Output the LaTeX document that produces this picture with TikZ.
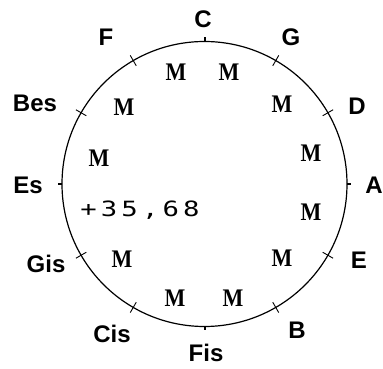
\documentclass[tikz,border=0pt]{standalone}
\usepackage{fontspec}
\newfontfamily\labfont{Liberation Sans}
\newfontfamily\mfont{Liberation Serif}
\newfontfamily\numfont[LetterSpace=15]{DejaVu Sans Mono}
\begin{document}
\begin{tikzpicture}[x=1pt,y=1pt,
  key/.style={font=\labfont\bfseries\fontsize{24}{24}\selectfont, inner sep=0pt},
  mm/.style={font=\mfont\bfseries\fontsize{22}{22}\selectfont, inner sep=0pt},
  ring/.style={circle, draw, line width=1.2pt, minimum size=285pt, inner sep=0pt, outer sep=0pt},
  bigtick/.style={line width=2pt},
  smalltick/.style={line width=0.9pt}]
\useasboundingbox (0,0) rectangle (383,369);
\node[ring] (circ) at (204.5,185) {};
% short outward ticks
\foreach \a in {0,90,180,270}
  \draw[bigtick] (circ.\a) -- ([shift={(\a:4)}]circ.\a);
% crossing ticks
\foreach \a in {30,60,120,150,210,240,300,330}
  \draw[smalltick] ([shift={(\a:-6)}]circ.\a) -- ([shift={(\a:6)}]circ.\a);
% key labels
\node[key] (kC)   at (203,350) {C};
\node[key] (kG)   at (291,332) {G};
\node[key] (kD)   at (357,263) {D};
\node[key] (kA)   at (374,184) {A};
\node[key] (kE)   at (359,109) {E};
\node[key] (kB)   at (297,39)  {B};
\node[key] (kFis) at (206,16)  {Fis};
\node[key] (kCis) at (112,35)  {Cis};
\node[key] (kGis) at (46,105)  {Gis};
\node[key] (kEs)  at (28,184)  {Es};
\node[key] (kBes) at (35,266)  {Bes};
\node[key] (kF)   at (106,332) {F};
% M marks
\node[mm] (m1)  at (176,297) {\scalebox{1}[1.15]{M}};
\node[mm] (m2)  at (229,297) {\scalebox{1}[1.15]{M}};
\node[mm] (m3)  at (282,265) {\scalebox{1}[1.15]{M}};
\node[mm] (m4)  at (311,216) {\scalebox{1}[1.15]{M}};
\node[mm] (m5)  at (311,157) {\scalebox{1}[1.15]{M}};
\node[mm] (m6)  at (282,111) {\scalebox{1}[1.15]{M}};
\node[mm] (m7)  at (233,71)  {\scalebox{1}[1.15]{M}};
\node[mm] (m8)  at (175,71)  {\scalebox{1}[1.15]{M}};
\node[mm] (m9)  at (122,110) {\scalebox{1}[1.15]{M}};
\node[mm] (m10) at (99,211)  {\scalebox{1}[1.15]{M}};
\node[mm] (m11) at (124,262) {\scalebox{1}[1.15]{M}};
% value
\node[inner sep=0pt, font=\numfont\fontsize{21}{21}\selectfont] (val) at (140,158.5) {\scalebox{1.3}[1]{+35,68}};
\end{tikzpicture}
\end{document}
